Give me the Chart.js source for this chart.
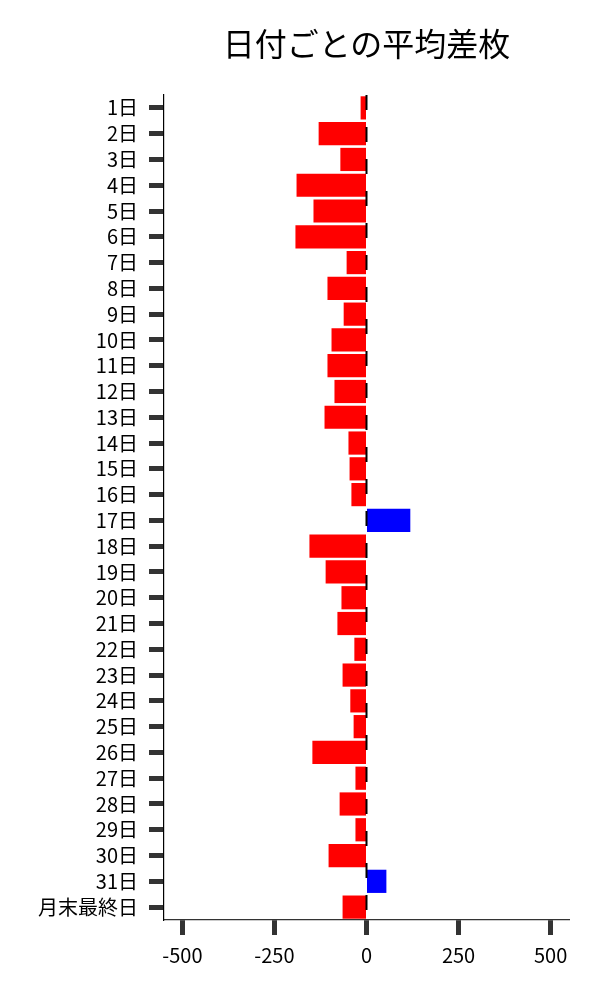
<!DOCTYPE html>
<html lang="ja">
<head>
<meta charset="utf-8">
<title>日付ごとの平均差枚</title>
<script src="https://cdn.jsdelivr.net/npm/chart.js@4/dist/chart.umd.min.js"></script>
<style>
  html, body { margin: 0; padding: 0; background: #fff; }
  #wrap { position: relative; width: 600px; height: 1000px; }
  #title {
    position: absolute; top: 26px; left: 164px; width: 405px;
    text-align: center; font: 32px "Noto Sans CJK JP", sans-serif; line-height: 1;
    color: #000; margin: 0; font-weight: normal;
  }
</style>
</head>
<body>
<div id="wrap">
  <h1 id="title">日付ごとの平均差枚</h1>
  <canvas id="chart"></canvas>
</div>
<script>
  const days = [
    "1日", "2日", "3日", "4日", "5日", "6日", "7日", "8日", "9日", "10日",
    "11日", "12日", "13日", "14日", "15日", "16日", "17日", "18日", "19日", "20日",
    "21日", "22日", "23日", "24日", "25日", "26日", "27日", "28日", "29日", "30日",
    "31日", "月末最終日",
  ];
  const avgDiff = [
    -16, -130, -71, -190, -144, -193, -54, -106, -62, -95,
    -106, -87, -114, -49, -46, -41, 119, -155, -111, -68,
    -79, -33, -65, -44, -35, -147, -30, -73, -30, -103,
    54, -65,
  ];
  const xTicks = [-500, -250, 0, 250, 500];
  const xRange = [-550, 550];

  const FONT = "'Noto Sans CJK JP', sans-serif";

  // dashed zero line on top of the bars
  const zeroLine = {
    id: "zeroLine",
    afterDatasetsDraw(chart) {
      const { ctx, chartArea, scales } = chart;
      const x = scales.x.getPixelForValue(0);
      ctx.save();
      ctx.strokeStyle = "#000";
      ctx.lineWidth = 2;
      ctx.setLineDash([15, 17]);
      ctx.beginPath();
      ctx.moveTo(x, chartArea.top);
      ctx.lineTo(x, chartArea.bottom);
      ctx.stroke();
      ctx.restore();
    },
  };

  new Chart(document.getElementById("chart"), {
    type: "bar",
    data: {
      labels: days,
      datasets: [
        {
          data: avgDiff,
          backgroundColor: avgDiff.map((v) => (v >= 0 ? "#0000ff" : "#ff0000")),
          barPercentage: 0.9,
          categoryPercentage: 1.0,
          borderWidth: 0,
        },
      ],
    },
    options: {
      indexAxis: "y",
      responsive: true,
      maintainAspectRatio: false,
      devicePixelRatio: 1,
      animation: false,
      layout: { padding: { top: 95, right: 31, left: 0, bottom: 0 } },
      plugins: { legend: { display: false }, tooltip: { enabled: false }, title: { display: false } },
      scales: {
        x: {
          min: xRange[0],
          max: xRange[1],
          afterBuildTicks: (axis) => { axis.ticks = xTicks.map((v) => ({ value: v })); },
          afterFit: (axis) => { axis.height = 80; },
          ticks: { color: "#000", font: { family: FONT, size: 20 }, padding: 8, maxRotation: 0 },
          grid: { drawOnChartArea: false, tickLength: 15, tickWidth: 5, tickColor: "#333" },
          border: { color: "#333", width: 1.2 },
        },
        y: {
          afterFit: (axis) => { axis.width = 164; },
          ticks: { color: "#000", font: { family: FONT, size: 20 }, padding: 11, autoSkip: false },
          grid: { offset: false, drawOnChartArea: false, tickLength: 15, tickWidth: 5, tickColor: "#333" },
          border: { color: "#000", width: 1.2 },
        },
      },
    },
    plugins: [zeroLine],
  });
</script>
</body>
</html>
